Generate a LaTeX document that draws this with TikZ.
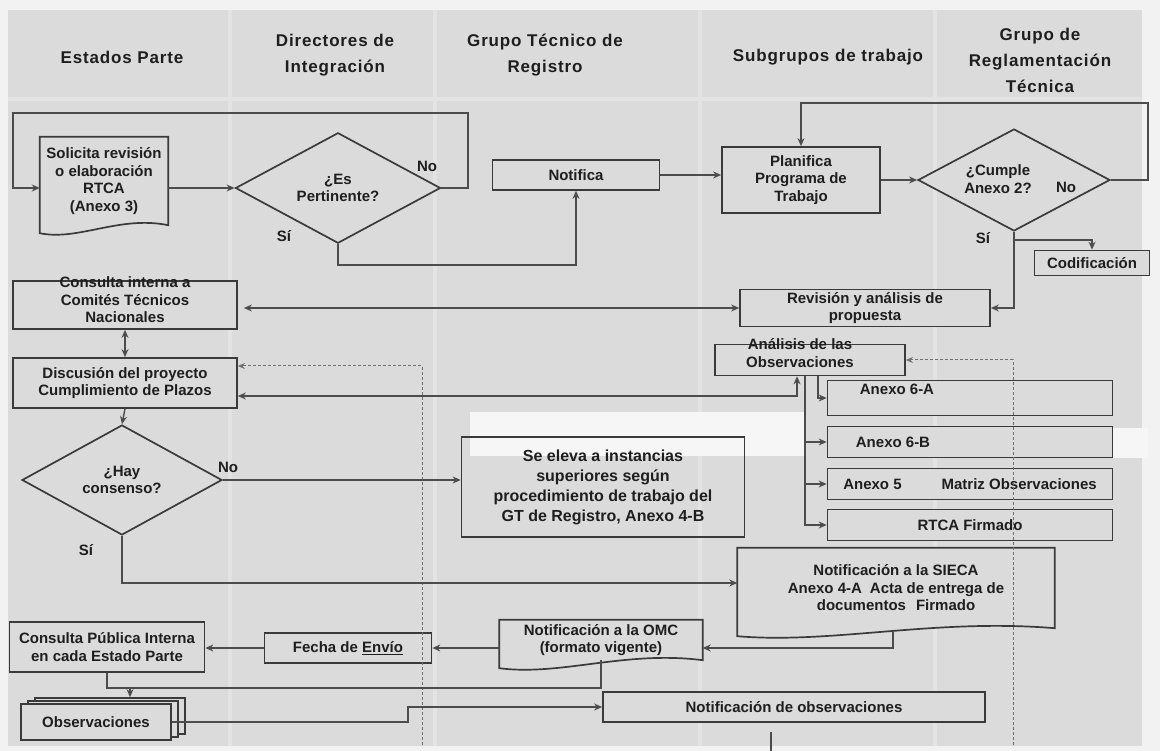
\documentclass[tikz,border=0pt]{standalone}
\usepackage{fontspec}
\setmainfont{Liberation Sans}
\usetikzlibrary{shapes.geometric,arrows.meta,calc,shadows}
\pgfdeclarelayer{back}
\pgfdeclarelayer{mid}
\pgfsetlayers{back,mid,main}
\definecolor{bgc}{HTML}{DBDBDB}
\definecolor{sepc}{HTML}{E3E3E3}
\definecolor{pagec}{HTML}{F2F2F2}
\definecolor{linec}{HTML}{3A3A3A}
\definecolor{arrc}{HTML}{4C4C4C}
\definecolor{txtc}{HTML}{1E1E1E}
\definecolor{whitec}{HTML}{F6F6F6}
\newcommand\docwave[1]{%
 \begin{pgfonlayer}{mid}
 \filldraw[boxline] (#1.north west) -- (#1.north east) -- (#1.south east)
   .. controls ($(#1.south west)!0.62!(#1.south east)+(0pt,10pt)$) and ($(#1.south west)!0.3!(#1.south east)+(0pt,-16pt)$) .. ($(#1.south west)+(0pt,-8pt)$) -- cycle;
 \end{pgfonlayer}}
\begin{document}
\begin{tikzpicture}[x=1pt,y=-1pt,
  boxline/.style={draw=linec, line width=1.7pt, fill=bgc},
  txt/.style={font=\bfseries\fontsize{15}{17.5}\selectfont, text=txtc, align=center, inner sep=0pt},
  box/.style={boxline, rectangle, inner sep=1pt, txt},
  docn/.style={rectangle, draw=none, fill=none, inner sep=1pt, txt},
  dia/.style={boxline, diamond, inner sep=0pt, txt},
  hdr/.style={font=\bfseries\fontsize{17}{26}\selectfont\addfontfeatures{LetterSpace=5}, text=txtc, align=center},
  arr/.style={draw=arrc, line width=1.4pt, -{Stealth[length=8pt,width=7pt]}},
  darr/.style={draw=arrc, line width=1.4pt, {Stealth[length=8pt,width=7pt]}-{Stealth[length=8pt,width=7pt]}},
  ln/.style={draw=arrc, line width=1.4pt},
  dotl/.style={draw=arrc!80, line width=1pt, densely dashed, -{Stealth[length=7pt,width=6pt]}},
  dotplain/.style={draw=arrc!80, line width=1pt, densely dashed}
]
\useasboundingbox (0,0) rectangle (1160,751);
% ---------- background lanes ----------
\begin{pgfonlayer}{back}
\fill[pagec] (0,0) rectangle (1160,751);
\fill[bgc] (8,10) rectangle (1142,746);
\foreach \xx in {230,435,700,935} {\fill[sepc] (\xx-2,10) rectangle (\xx+2,746);}
\fill[sepc] (8,97) rectangle (1142,101);
\fill[whitec] (470,412) rectangle (805,456);
\fill[whitec] (1113,428) rectangle (1148,458);
\end{pgfonlayer}
% ---------- headers ----------
\node[hdr] (hEP) at (122,57) {Estados Parte};
\node[hdr] (hDI) at (335,55) {Directores de\\Integración};
\node[hdr] (hGT) at (545,55) {Grupo Técnico de\\Registro};
\node[hdr] (hSG) at (828,57) {Subgrupos de trabajo};
\node[hdr] (hGR) at (1040,60) {Grupo de\\Reglamentación\\Técnica};
% ---------- nodes ----------
\node[docn, minimum width=128, minimum height=88] (sol) at (104,181) {Solicita revisión\\o elaboración\\RTCA\\(Anexo 3)};
\docwave{sol}
\node[dia, minimum width=205, minimum height=88] (d1) at (338,188) {¿Es\\Pertinente?};
\node[box, minimum width=167, minimum height=30] (notif) at (576,175) {Notifica};
\node[box, minimum width=158, minimum height=66] (plan) at (801,180) {Planifica\\Programa de\\Trabajo};
\node[dia, minimum width=192, minimum height=102] (d2) at (1014,180) {};
\node[txt] (d2t) at (998,179) {¿Cumple\\Anexo 2?};
\node[box, minimum width=115, minimum height=25] (cod) at (1092,263) {Codificación};
\node[box, minimum width=250, minimum height=37] (rev) at (865,308) {Revisión y análisis de\\propuesta};
\node[box, minimum width=224, minimum height=48] (ctn) at (125,305) {};
\node[txt] (ctnt) at (125,300) {Consulta interna a\\Comités Técnicos\\Nacionales};
\node[box, minimum width=224, minimum height=50] (disc) at (125,383) {Discusión del proyecto\\Cumplimiento de Plazos};
\node[box, minimum width=190, minimum height=31] (anl) at (810,360) {};
\node[txt] (anlt) at (800,353) {Análisis de las\\Observaciones};
\node[box, minimum width=285, minimum height=35] (a6a) at (970,398) {};
\node[txt] (a6at) at (897,389) {Anexo 6-A};
\node[box, minimum width=285, minimum height=31] (a6b) at (970,442) {};
\node[txt] (a6bt) at (893,442) {Anexo 6-B};
\node[box, minimum width=285, minimum height=31] (a5) at (970,484) {Anexo 5\hspace{40pt}Matriz Observaciones};
\node[box, minimum width=285, minimum height=31] (rtca) at (970,525) {RTCA Firmado};
\node[dia, minimum width=200, minimum height=110] (d3) at (122,480) {¿Hay\\consenso?};
\node[box, fill=none, minimum width=283, minimum height=100, font=\bfseries\fontsize{16}{20}\selectfont] (eleva) at (603,487) {Se eleva a instancias\\superiores según\\procedimiento de trabajo del\\GT de Registro, Anexo 4-B};
\node[docn, minimum width=317, minimum height=80] (sieca) at (896,588) {Notificación a la SIECA\\Anexo 4-A\hspace{8pt}Acta de entrega de\\documentos\hspace{10pt}Firmado};
\docwave{sieca}
\node[docn, minimum width=203, minimum height=40] (omc) at (601,640) {Notificación a la OMC\\(formato vigente)};
\docwave{omc}
\node[box, minimum width=167, minimum height=30] (fecha) at (348,648) {Fecha de \underline{Envío}};
\node[box, minimum width=195, minimum height=50] (cpub) at (107,647) {Consulta Pública Interna\\en cada Estado Parte};
\node[box, minimum width=150, minimum height=36, double copy shadow={shadow xshift=7pt, shadow yshift=3pt, fill=bgc, draw=linec, line width=1.7pt}] (obs) at (96,722) {Observaciones};
\node[box, minimum width=382, minimum height=30] (nobs) at (794,707) {Notificación de observaciones};
% ---------- branch labels ----------
\node[txt] (no1) at (427,166) {No};
\node[txt] (si1) at (284,236) {Sí};
\node[txt] (no2) at (1066,187) {No};
\node[txt] (si2) at (983,238) {Sí};
\node[txt] (no3) at (228,467) {No};
\node[txt] (si3) at (86,550) {Sí};
% ---------- coordinates ----------
\coordinate (c0) at (468,113);
\coordinate (c0b) at (13,113);
\coordinate (c1) at (576,265);
\coordinate (c2) at (1148,103);
\coordinate (c3) at (130,688);
\coordinate (c4) at (408,722);
\coordinate (c5a) at (771,732);
\coordinate (c5) at (771,751);
\coordinate (e1) at (422,745);
\coordinate (e2) at (1013,745);
% ---------- connectors ----------
\draw[arr] (sol.east |- d1.west) -- (d1.west);
\draw[arr] (d1.east) -| (c0) -- (c0b) |- (sol.west |- d1.west);
\draw[arr] (d1.south) |- (c1) -- (notif.south);
\draw[arr] (notif.east) -- (notif.east -| plan.west);
\draw[arr] (plan.east) -- (d2.west);
\draw[arr] (d2.east) -| (c2) -| (plan.north);
\draw[arr] (d2.south) -- ++(0,8) -| (cod.north);
\draw[arr] (d2.south) |- (rev.east);
\draw[darr, shorten >=6pt] (rev.west) -- (rev.west -| ctn.east);
\draw[darr] (ctn.south) -- (disc.north);
\draw[dotl] (e1) |- ([yshift=17pt]disc.east);
\draw[darr] ([yshift=-13pt]disc.east) -| ([xshift=-13pt]anl.south);
\draw[dotl] (e2) |- (anl.east);
\draw[arr] ([xshift=8pt]anl.south) |- (a6a.west);
\draw[arr] ([xshift=-5pt]anl.south) |- (a6b.west);
\draw[arr] ([xshift=-5pt]anl.south) |- (a5.west);
\draw[arr] ([xshift=-5pt]anl.south) |- (rtca.west);
\draw[arr] (disc.south) -- (d3.north);
\draw[arr] (d3.east) -- (d3.east -| eleva.west);
\draw[arr] (d3.south) |- ([yshift=5pt]sieca.west);
\draw[arr] ([xshift=-3pt,yshift=-3pt]sieca.south) |- ([yshift=-8pt]omc.east);
\draw[arr] (fecha.east -| omc.west) -- (fecha.east);
\draw[arr] (fecha.west) -- (fecha.west -| cpub.east);
\draw[ln] (cpub.south) |- (c3);
\draw[ln] (omc.south) |- (c3);
\draw[arr, shorten >=6pt] (c3) -- (c3 |- obs.north);
\draw[arr] (obs.east) -- (c4) |- (nobs.west);
\draw[ln] (c5a) -- (c5);
\end{tikzpicture}
\end{document}
